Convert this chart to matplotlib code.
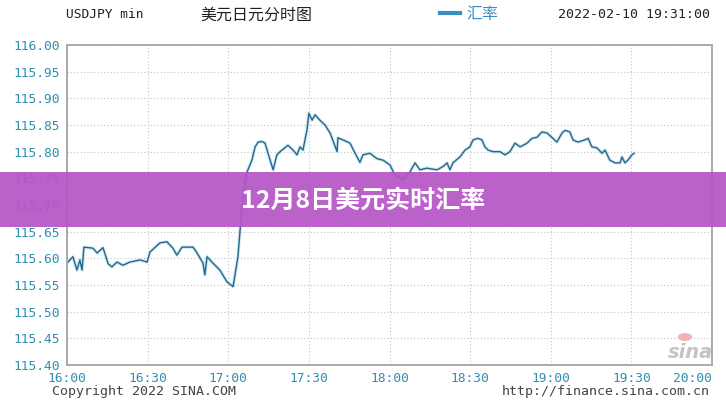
import matplotlib
matplotlib.use("Agg")
import matplotlib.pyplot as plt
from matplotlib.patches import Rectangle, Circle

# ---- data ----
minutes = [0, 2.2, 3.7, 4.8, 5.6, 6.3, 9.7, 11.2, 13.4, 15.3, 16.7, 18.6, 20.8, 23.4,
           27.2, 29.8, 30.9, 34.6, 37.2, 39.4, 40.9, 42.8, 46.9, 48.4, 50.6, 51.3, 52.1,
           54.3, 56.9, 59.5, 61.8, 63.6, 64.4, 65.5, 67.0, 68.8, 70.0, 71.1, 72.6, 73.7,
           74.8, 76.7, 78.1, 79.3, 82.2, 84.1, 85.6, 86.7, 87.8, 89.3, 90.0, 91.2, 92.3,
           94.1, 96.0, 97.9, 100.5, 100.8, 102.7, 105.3, 107.2, 109.0, 110.1, 112.7, 115.3,
           117.6, 120.2, 122.0, 123.9, 125.0, 127.6, 129.5, 131.3, 133.9, 137.7, 139.9,
           141.4, 142.5, 143.6, 146.2, 148.1, 149.9, 151.1, 152.9, 154.4, 155.5, 156.7,
           158.5, 161.1, 163.0, 164.8, 166.7, 168.6, 171.2, 173.0, 174.9, 176.7, 178.6,
           180.8, 182.3, 184.2, 185.3, 187.1, 188.3, 190.1, 192.7, 193.9, 195.3, 197.2,
           199.1, 200.2, 202.0, 203.9, 205.8, 206.5, 207.6, 208.7, 210.2, 211.0]
rates = [115.591, 115.603, 115.578, 115.597, 115.578, 115.621, 115.619, 115.610, 115.620,
         115.590, 115.584, 115.593, 115.587, 115.593, 115.597, 115.593, 115.612, 115.629,
         115.631, 115.619, 115.606, 115.621, 115.621, 115.610, 115.591, 115.569, 115.603,
         115.591, 115.578, 115.556, 115.547, 115.603, 115.653, 115.720, 115.762, 115.784,
         115.809, 115.818, 115.819, 115.816, 115.797, 115.766, 115.794, 115.800, 115.812,
         115.803, 115.794, 115.809, 115.803, 115.841, 115.872, 115.859, 115.869, 115.859,
         115.850, 115.835, 115.800, 115.826, 115.822, 115.816, 115.797, 115.780, 115.794,
         115.797, 115.787, 115.784, 115.775, 115.756, 115.752, 115.747, 115.762, 115.779,
         115.766, 115.769, 115.766, 115.772, 115.779, 115.766, 115.779, 115.790, 115.803,
         115.809, 115.822, 115.825, 115.822, 115.809, 115.803, 115.800, 115.800, 115.794,
         115.800, 115.816, 115.809, 115.816, 115.825, 115.827, 115.837, 115.835, 115.825,
         115.818, 115.835, 115.840, 115.837, 115.822, 115.818, 115.822, 115.825, 115.809,
         115.807, 115.797, 115.803, 115.784, 115.779, 115.779, 115.790, 115.779, 115.784,
         115.794, 115.797]
x_ticks = [0, 30, 60, 90, 120, 150, 180, 210, 240]
x_labels = ["16:00", "16:30", "17:00", "17:30", "18:00", "18:30", "19:00", "19:30", "20:00"]
y_ticks = [115.40, 115.45, 115.50, 115.55, 115.60, 115.65, 115.70, 115.75, 115.80,
           115.85, 115.90, 115.95, 116.00]

mono = "DejaVu Sans Mono"
cjk = ["Noto Sans CJK SC", "DejaVu Sans"]
tick_color = "#2f8fae"

fig = plt.figure(figsize=(7.26, 4.0), dpi=100)
ax = fig.add_axes([67/726, 1-365/400, (712-67)/726, 320/400])
ax.plot(minutes, rates, color="#a8d4e8", lw=2.4, alpha=0.55, solid_joinstyle="round")
ax.plot(minutes, rates, color="#24688a", lw=1.0, solid_joinstyle="round")

ax.set_xlim(0, 240)
ax.set_ylim(115.40, 116.00)
ax.set_xticks(x_ticks)
ax.set_xticklabels(x_labels)
ax.set_yticks(y_ticks)
ax.set_yticklabels([f"{v:.2f}" for v in y_ticks])
ax.tick_params(length=0, colors=tick_color, labelsize=9.3, pad=5)
for lab in ax.get_xticklabels() + ax.get_yticklabels():
    lab.set_fontfamily(mono)
last = ax.get_xticklabels()[-1]
last.set_horizontalalignment("right")
last.set_x(240)
ax.grid(True, color="#c4c4c4", linestyle=(0, (1, 2)), linewidth=0.8)
for s in ax.spines.values():
    s.set_color("#aaaaaa")
    s.set_linewidth(1.4)

# header
fig.text(66/726, 1-15/400, "USDJPY min", family=mono, fontsize=9.3, color="#222222", va="center")
fig.text(200/726, 1-15/400, "美元日元分时图", family=cjk, fontsize=11.5, color="#222222", va="center")
fig.add_artist(plt.Line2D([440/726, 460/726], [1-13/400, 1-13/400], color="#3a8fc0", lw=3))
fig.text(466/726, 1-15/400, "汇率", family=cjk, fontsize=11.5, color="#3a8fc0", va="center")
fig.text(710/726, 1-15/400, "2022-02-10 19:31:00", family=mono, fontsize=9.5, color="#222222",
         va="center", ha="right")

# footer
fig.text(52/726, 1-391/400, "Copyright 2022 SINA.COM", family=mono, fontsize=9.5,
         color="#444444", va="center")
fig.text(710/726, 1-391/400, "http://finance.sina.com.cn", family=mono, fontsize=9.5,
         color="#444444", va="center", ha="right")

# sina watermark
fig.text(690/726, 1-352/400, "sina", fontsize=14, fontweight="bold", style="italic",
         color="#c4c4c4", ha="center", va="center", family="DejaVu Sans")
fig.add_artist(Circle((685/726, 1-337/400), 0.010, transform=fig.transFigure,
                      color="#f0b4b8", ec="none"))

# banner
fig.add_artist(Rectangle((0, 1-227/400), 1, 55/400, transform=fig.transFigure,
                         color="#b655c6", alpha=0.93, ec="none"))
fig.text(0.5, 1-201/400, "12月8日美元实时汇率", family=cjk, fontsize=18, fontweight="bold",
         color="white", ha="center", va="center")

fig.savefig("out.png", dpi=100)
